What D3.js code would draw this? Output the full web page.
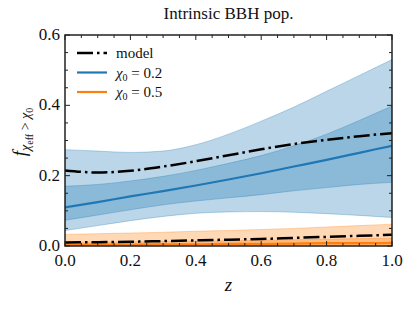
<!DOCTYPE html>
<html>
<head>
<meta charset="utf-8">
<script src="https://cdn.jsdelivr.net/npm/d3@7"></script>
<style>
	body { margin: 0; background: #fff; }
</style>
</head>
<body>
<svg id="chart" width="416" height="309"></svg>
<script>
// redshift grid
const zs = [0.0, 0.1, 0.2, 0.3, 0.4, 0.5, 0.6, 0.7, 0.8, 0.9, 1.0];

// chi0 = 0.2
const blueLo90 = [0.044, 0.058, 0.072, 0.084, 0.093, 0.097, 0.098, 0.096, 0.092, 0.087, 0.081];
const blueHi90 = [0.274, 0.270, 0.266, 0.270, 0.288, 0.318, 0.355, 0.395, 0.440, 0.485, 0.530];
const blueLo50 = [0.073, 0.088, 0.103, 0.117, 0.128, 0.137, 0.146, 0.157, 0.166, 0.175, 0.181];
const blueHi50 = [0.170, 0.175, 0.185, 0.198, 0.215, 0.235, 0.257, 0.285, 0.318, 0.357, 0.398];
const blueMed = [0.110, 0.125, 0.141, 0.156, 0.172, 0.189, 0.207, 0.226, 0.245, 0.265, 0.285];
const modelBlue = [0.215, 0.209, 0.214, 0.226, 0.241, 0.258, 0.275, 0.290, 0.302, 0.312, 0.321];

// chi0 = 0.5
const orangeLo90 = [0.000, 0.000, 0.000, 0.000, 0.000, 0.000, 0.000, 0.000, 0.000, 0.000, 0.000];
const orangeHi90 = [0.033, 0.035, 0.037, 0.039, 0.042, 0.044, 0.047, 0.050, 0.054, 0.058, 0.062];
const orangeLo50 = [0.001, 0.001, 0.001, 0.002, 0.002, 0.002, 0.002, 0.003, 0.003, 0.003, 0.003];
const orangeHi50 = [0.010, 0.011, 0.012, 0.013, 0.014, 0.015, 0.016, 0.018, 0.019, 0.021, 0.022];
const orangeMed = [0.003, 0.004, 0.004, 0.005, 0.005, 0.006, 0.006, 0.007, 0.008, 0.008, 0.009];
const modelOrange = [0.010, 0.011, 0.012, 0.014, 0.016, 0.018, 0.020, 0.023, 0.026, 0.029, 0.032];

const xTicks = [0.0, 0.2, 0.4, 0.6, 0.8, 1.0];
const yTicks = [0.0, 0.2, 0.4, 0.6];
const legendItems = ["model", "χ0 = 0.2", "χ0 = 0.5"];

const blue = '#1f77b4', orange = '#ff7f0e';
const serif = "'Liberation Serif', 'DejaVu Serif', serif";

whenDocumentLoaded(() => {
	const margin = {left: 65, right: 24, top: 35, bottom: 63};
	const svg = d3.select('#chart');
	const W = 416, H = 309;
	const w = W - margin.left - margin.right, h = H - margin.top - margin.bottom;

	let x = d3.scaleLinear().domain([0, 1]).range([margin.left, margin.left + w]);
	let y = d3.scaleLinear().domain([0, 0.6]).range([margin.top + h, margin.top]);

	svg.append('clipPath').attr('id', 'clip')
		.append('rect')
		.attr('x', margin.left).attr('y', margin.top)
		.attr('width', w).attr('height', h);

	const plot = svg.append('g').attr('clip-path', 'url(#clip)');

	function band(lo, hi, color) {
		const pts = zs.map((z, i) => ({z: z, lo: lo[i], hi: hi[i]}));
		const area = d3.area()
			.x(d => x(d.z)).y0(d => y(d.lo)).y1(d => y(d.hi))
			.curve(d3.curveMonotoneX);
		plot.append('path').datum(pts)
			.attr('d', area)
			.attr('fill', color).attr('fill-opacity', 0.3)
			.attr('stroke', color).attr('stroke-opacity', 0.3).attr('stroke-width', 1);
	}

	function curve(vals, color, lw, dash) {
		const line = d3.line()
			.x((d, i) => x(zs[i])).y(d => y(d))
			.curve(d3.curveMonotoneX);
		let p = plot.append('path').datum(vals)
			.attr('d', line)
			.attr('fill', 'none')
			.attr('stroke', color).attr('stroke-width', lw);
		if (dash) p.attr('stroke-dasharray', dash);
	}

	band(blueLo90, blueHi90, blue);
	band(blueLo50, blueHi50, blue);
	band(orangeLo90, orangeHi90, orange);
	band(orangeLo50, orangeHi50, orange);
	curve(blueMed, blue, 2.2);
	curve(orangeMed, orange, 2.2);
	curve(modelBlue, '#000', 2.5, '16,4,2.5,4');
	curve(modelOrange, '#000', 2.5, '16,4,2.5,4');

	// ticks, all four sides, pointing in
	const minorX = d3.range(0, 1.0001, 0.05);
	const minorY = d3.range(0, 0.6001, 0.05);
	const tk = svg.append('g').attr('stroke', '#222').attr('stroke-width', 1);
	minorX.forEach(v => {
		const major = xTicks.some(t => Math.abs(t - v) < 1e-6);
		const len = major ? 5 : 3;
		tk.append('line').attr('x1', x(v)).attr('x2', x(v))
			.attr('y1', margin.top + h).attr('y2', margin.top + h - len);
		tk.append('line').attr('x1', x(v)).attr('x2', x(v))
			.attr('y1', margin.top).attr('y2', margin.top + len);
	});
	minorY.forEach(v => {
		const major = yTicks.some(t => Math.abs(t - v) < 1e-6);
		const len = major ? 5 : 3;
		tk.append('line').attr('y1', y(v)).attr('y2', y(v))
			.attr('x1', margin.left).attr('x2', margin.left + len);
		tk.append('line').attr('y1', y(v)).attr('y2', y(v))
			.attr('x1', margin.left + w).attr('x2', margin.left + w - len);
	});

	svg.append('rect')
		.attr('x', margin.left).attr('y', margin.top)
		.attr('width', w).attr('height', h)
		.attr('fill', 'none').attr('stroke', '#222').attr('stroke-width', 1.5);

	const txt = svg.append('g').attr('font-family', serif).attr('fill', '#111');

	xTicks.forEach(t => {
		txt.append('text')
			.attr('x', x(t)).attr('y', margin.top + h + 20)
			.attr('text-anchor', 'middle').attr('font-size', 17)
			.text(t.toFixed(1));
	});
	yTicks.forEach(t => {
		txt.append('text')
			.attr('x', margin.left - 5).attr('y', y(t) + 5)
			.attr('text-anchor', 'end').attr('font-size', 17)
			.text(t.toFixed(1));
	});

	txt.append('text')
		.attr('x', margin.left + w / 2).attr('y', 19)
		.attr('text-anchor', 'middle').attr('font-size', 17)
		.text('Intrinsic BBH pop.');

	txt.append('text')
		.attr('x', margin.left + w / 2).attr('y', 291)
		.attr('text-anchor', 'middle').attr('font-size', 19)
		.attr('font-style', 'italic')
		.text('z');

	// y label f_{chi_eff > chi_0}
	let yl = txt.append('text')
		.attr('transform', 'translate(26,132) rotate(-90)')
		.attr('text-anchor', 'middle');
	yl.append('tspan').attr('font-size', 19).attr('font-style', 'italic').text('f');
	yl.append('tspan').attr('font-size', 14).attr('font-style', 'italic').attr('dy', 4).text('χ');
	yl.append('tspan').attr('font-size', 10).attr('dy', 3).text('eff');
	yl.append('tspan').attr('font-size', 14).attr('dy', -3).text(' > ');
	yl.append('tspan').attr('font-size', 14).attr('font-style', 'italic').text('χ');
	yl.append('tspan').attr('font-size', 10).attr('dy', 3).text('0');

	// legend
	const legendColors = ['#000', blue, orange];
	legendItems.forEach((label, i) => {
		const ly = 53 + i * 19.5;
		let ln = svg.append('line')
			.attr('x1', 77).attr('x2', 107).attr('y1', ly).attr('y2', ly)
			.attr('stroke', legendColors[i]).attr('stroke-width', i == 0 ? 2.5 : 2.2);
		if (i == 0) ln.attr('stroke-dasharray', '16,4,2.5,4');
		let t = txt.append('text').attr('x', 116).attr('y', ly + 5).attr('font-size', 15);
		if (i == 0) {
			t.text(label);
		} else {
			t.append('tspan').attr('font-style', 'italic').text('χ');
			t.append('tspan').attr('font-size', 10).attr('dy', 3).text('0');
			t.append('tspan').attr('dy', -3).text(label.slice(2));
		}
	});
});

function whenDocumentLoaded(action) {
	if (document.readyState === "loading") {
		document.addEventListener("DOMContentLoaded", action);
	} else {
		action();
	}
}
</script>
</body>
</html>
